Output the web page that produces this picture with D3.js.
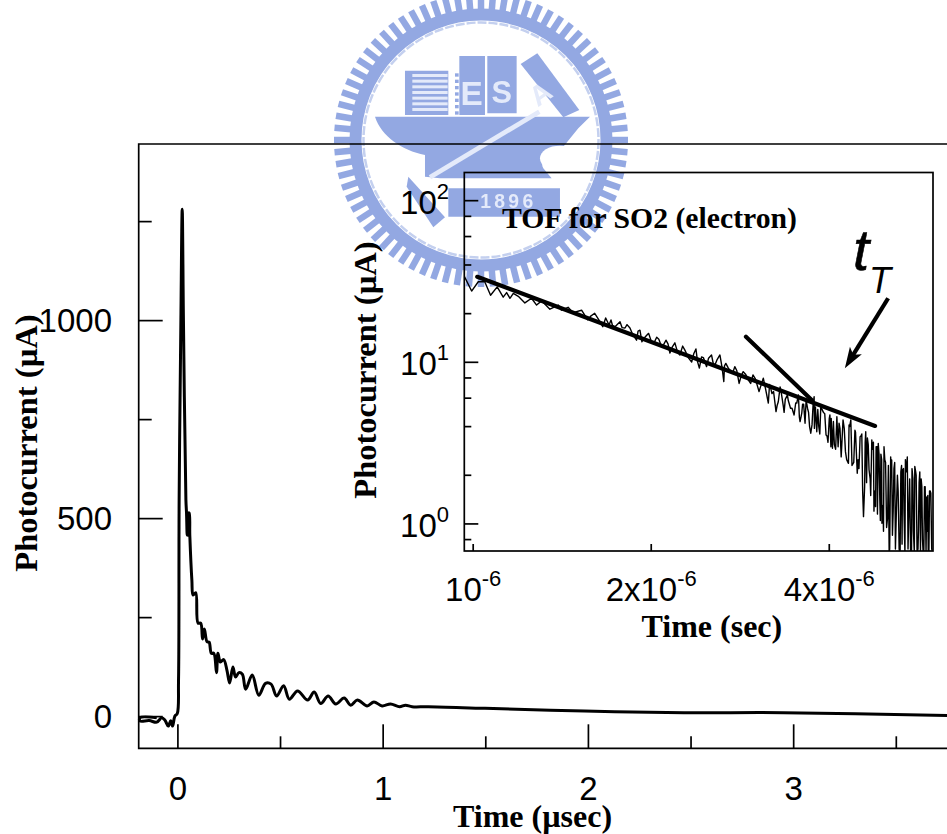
<!DOCTYPE html>
<html>
<head>
<meta charset="utf-8">
<title>TOF for SO2</title>
<script src="https://cdnjs.cloudflare.com/ajax/libs/d3/7.8.5/d3.min.js"></script>
<style>
	html, body { margin: 0; padding: 0; background: #fff; }
	svg { display: block; }
	.tick_label { font-family: "Liberation Sans", Arial, sans-serif; font-size: 33px; fill: #000; }
	.axis_title { font-family: "Liberation Serif", "Times New Roman", serif; font-weight: bold; fill: #000; }
	.frame, .tick { stroke: #000; fill: none; stroke-width: 1.7; }
</style>
</head>
<body>
<svg id="svg_main" width="947" height="834"></svg>
<script>
// main trace, time in usec, photocurrent in uA
var mainTime = [-0.103, -0.185, -0.185, -0.14, -0.103, -0.079, -0.063, -0.047, -0.035, -0.026,
	-0.015, -0.003, 0.003, 0.006, 0.0145, 0.021, 0.027, 0.039, 0.042, 0.045,
	0.047, 0.05, 0.052, 0.055, 0.058, 0.068, 0.074, 0.087, 0.098, 0.111,
	0.12, 0.129, 0.142, 0.152, 0.163, 0.175, 0.188, 0.195, 0.207, 0.223,
	0.239, 0.252, 0.268, 0.281, 0.297, 0.314, 0.33, 0.362, 0.394, 0.427,
	0.454, 0.481, 0.515, 0.543, 0.583, 0.632, 0.664, 0.696, 0.732, 0.769,
	0.81, 0.842, 0.874, 0.922, 0.955, 0.995, 1.036, 1.08, 1.109, 1.141,
	1.22, 1.496, 1.981, 2.466, 2.95, 3.75];
var mainCurrent = [-3, -3, -11, -10, -14, -3, -9, -24, -10.6, -24,
	1, 8, 92, 547, 1000, 1281, 1000, 547, 514, 458,
	514, 458, 514, 514, 458, 345, 307, 313, 236, 236,
	196, 221, 189, 188, 160, 160, 111, 160, 138, 144,
	117, 85, 125, 100, 111, 107, 69, 105, 54, 84,
	82, 52, 78, 44, 65, 42, 62, 33, 52, 32,
	47, 29, 42, 27, 37, 27, 32, 25, 29, 25,
	25, 21, 14, 10, 10, 3];

// inset trace, time in usec, photocurrent in uA
var insetTime = [0.966, 0.994, 1.02, 1.046, 1.07, 1.098, 1.124, 1.139, 1.154, 1.169,
	1.192, 1.223, 1.255, 1.28, 1.305, 1.348, 1.393, 1.41, 1.447, 1.475,
	1.525, 1.562, 1.605, 1.656, 1.675, 1.697, 1.71, 1.737, 1.771, 1.806,
	1.841, 1.889, 1.914, 1.929, 1.965, 2.004, 2.043, 2.084, 2.118, 2.151,
	2.193, 2.236, 2.28, 2.341, 2.38, 2.412, 2.433, 2.481, 2.529, 2.562,
	2.613, 2.653, 2.674, 2.733, 2.769, 2.816, 2.861, 2.918, 2.972, 3.043,
	3.094, 3.155, 3.185, 3.251, 3.303, 3.346, 3.398, 3.488, 3.547, 3.594,
	3.655, 3.722, 3.771, 3.81, 3.87, 3.95, 4.01, 4.05, 4.12, 4.14,
	4.22, 4.31, 4.35, 4.46, 4.51, 4.57, 4.61, 4.67, 4.72, 4.79,
	4.84, 4.91, 4.95, 5.05, 5.1, 5.2, 5.27, 5.32, 5.42, 5.49,
	5.58, 5.63, 5.69, 5.78, 5.845, 5.88, 5.94, 5.98];
var insetCurrent = [34, 27.6, 31.5, 31.5, 26, 29.3, 25.3, 27, 24.9, 26.7,
	25.6, 23.3, 24.9, 22.6, 24, 21.3, 22.6, 21, 21.9, 20.3,
	21, 18.3, 20.1, 16.6, 18.8, 17, 18.3, 16.6, 17.8, 16.3,
	16.3, 13.7, 15.8, 13.4, 14.7, 13.2, 14.3, 12.4, 13.7, 11.4,
	13.2, 11.1, 11.9, 10.05, 12.1, 9.2, 10.8, 9.4, 11.1, 9.6,
	11.1, 7.6, 9.85, 8.75, 9.4, 7.4, 8.75, 7.78, 8.35, 6.6,
	7.97, 5.6, 6.9, 4.95, 7.05, 5.3, 6.28, 4.72, 6.28, 4.85,
	5.85, 3.64, 6.13, 3.72, 5.3, 3.55, 4.72, 2.94, 4.6, 3,
	4.4, 2.37, 4.4, 2.06, 3.46, 1.11, 3.72, 2.16, 3.31, 1.28,
	3.15, 1.01, 3, 0.66, 2.49, 1.41, 0.66, 2.16, 2.6, 0.66,
	2.27, 0.66, 2.1, 0.66, 1.47, 0.66, 1.55, 0.66];

// smaller wiggles in the middle of the decay
var midTime = [1.58, 1.63, 1.72, 1.785, 1.82, 1.86, 1.9, 1.945, 1.98, 2.02,
	2.06, 2.1, 2.135, 2.17, 2.215, 2.26, 2.31, 2.36, 2.395, 2.45,
	2.5, 2.545, 2.585, 2.635, 2.66, 2.7, 2.75, 2.79, 2.84, 2.89,
	2.945, 3.0, 3.07, 3.12, 3.17];
var midCurrent = [19.3, 18.4, 16.9, 16.4, 17.1, 14.9, 15.6, 14.1, 15.1, 13.1,
	13.9, 12.9, 13, 12.4, 11.6, 12.6, 10.7, 11.3, 10.1, 10.7,
	10.6, 9.9, 10.4, 9.3, 9.5, 9.2, 8.7, 8.9, 8.3, 8.4,
	7.4, 7.9, 7.3, 6.9, 7.3];

// extra spikes of the noisy tail, same units
var tailTime = [3.2, 3.28, 3.37, 3.44, 3.51, 3.57, 3.62, 3.69, 3.74, 3.79,
	3.84, 3.91, 3.98, 4.03, 4.08, 4.17, 4.26, 4.33, 4.4, 4.43,
	4.49, 4.54, 4.59, 4.64, 4.69, 4.75, 4.77, 4.82, 4.87, 4.89,
	4.93, 4.98, 5.02, 5.08, 5.13, 5.16, 5.23, 5.3, 5.35, 5.38,
	5.45, 5.52, 5.55, 5.6, 5.66, 5.72, 5.75, 5.81, 5.86, 5.91,
	3.22, 3.265, 3.32, 3.355, 3.41, 3.46, 3.525, 3.56, 3.605, 3.64,
	3.675, 3.705, 3.755, 3.775, 3.825, 3.855, 3.93, 3.965, 4.0, 4.025,
	4.065, 4.1, 4.155, 4.19, 4.24, 4.28, 4.32, 4.37, 4.42, 4.475,
	4.525, 4.555, 4.6, 4.625, 4.655, 4.7, 4.735, 4.76, 4.8, 4.825,
	4.855, 4.88, 4.905, 4.94, 4.965, 5.0, 5.035, 5.06, 5.09, 5.115,
	5.145, 5.175, 5.215, 5.25, 5.285, 5.31, 5.34, 5.37, 5.4, 5.435,
	5.47, 5.51, 5.54, 5.57, 5.61, 5.65, 5.675, 5.705, 5.735, 5.765,
	5.795, 5.83, 5.87, 5.895, 5.925, 5.96];
var tailCurrent = [6.4, 5.7, 5.9, 5.2, 5.6, 4.3, 5.5, 4.9, 4.1, 5.3,
	4.0, 4.9, 3.2, 4.5, 3.1, 3.9, 2.8, 4.0, 2.4, 3.7,
	2.2, 3.6, 1.7, 3.4, 1.9, 3.2, 1.6, 3.0, 1.4, 2.7,
	1.3, 2.4, 1.1, 2.6, 1.2, 2.4, 1.6, 2.3, 1.2, 2.5,
	1.1, 2.2, 0.9, 2.1, 0.9, 1.9, 0.8, 1.7, 0.9, 1.6,
	6.6, 5.4, 6.4, 4.9, 5.8, 5.2, 5.6, 4.6, 5.5, 4.2,
	5.2, 4.0, 5.4, 3.9, 5.1, 3.6, 4.8, 3.5, 4.5, 3.0,
	4.3, 2.9, 4.2, 2.6, 3.9, 2.5, 4.1, 2.3, 3.8, 2.5,
	3.5, 1.6, 3.2, 1.8, 3.1, 1.5, 2.9, 1.2, 3, 1.15,
	2.7, 1.05, 2.5, 0.9, 2.5, 0.95, 2.3, 0.7, 2.1, 0.85,
	2.2, 0.7, 2, 0.7, 2.1, 0.75, 2.2, 0.66, 2.1, 0.7,
	1.9, 0.66, 1.9, 0.66, 2, 0.7, 1.8, 0.66, 1.7, 0.66,
	1.7, 0.66, 1.5, 0.66, 1.6, 0.7];

// straight fits and arrow drawn on the inset, [time, current]
var fitLong = [[1.016, 33.8], [4.78, 4.04]];
var fitShort = [[2.892, 14.4], [3.735, 5.85]];
var arrowLine = [[5.03, 24.9], [4.25, 9.18]];

var mainMajorX = [0, 1, 2, 3];
var mainMinorX = [0.5, 1.5, 2.5, 3.5];
var mainMajorY = [0, 500, 1000];
var mainMinorY = [250, 750, 1250];
var insetTicksX = [1, 2, 4];
var insetMajorY = [1, 10, 100];
var insetMinorY = [0.8, 2, 4, 6, 8, 20, 40, 60, 80];
var insetLabelsX = [["10", "-6"], ["2x10", "-6"], ["4x10", "-6"]];
var insetLabelsY = [["10", "0"], ["10", "1"], ["10", "2"]];

var svg = d3.select("#svg_main");
var margin = { left: 138.7, top: 144, right: 947, bottom: 748.3 };
var inset = { left: 464.3, top: 172.5, right: 933, bottom: 551 };

drawLogo();

var mainX = d3.scaleLinear().domain([-0.191, 3.747]).range([margin.left, margin.right]);
var mainY = d3.scaleLinear().domain([-80, 1446]).range([margin.bottom, margin.top]);
var insetX = d3.scaleLog().base(2).domain([0.966, 5.99]).range([inset.left, inset.right]);
var insetY = d3.scaleLog().domain([0.68, 149.4]).range([inset.bottom, inset.top]);

svg.append("defs").append("clipPath").attr("id", "clip_inset")
	.append("rect")
	.attr("x", inset.left).attr("y", inset.top)
	.attr("width", inset.right - inset.left).attr("height", inset.bottom - inset.top);

// main frame, open on the right where the page cuts it
svg.append("path").attr("class", "frame")
	.attr("d", "M" + margin.right + "," + margin.top + "H" + margin.left + "V" + margin.bottom + "H" + margin.right);

function ticksX(values, len) {
	svg.append("g").selectAll("line").data(values).enter().append("line")
		.attr("class", "tick")
		.attr("x1", mainX).attr("x2", mainX)
		.attr("y1", margin.bottom).attr("y2", margin.bottom - len);
}
function ticksY(values, len) {
	svg.append("g").selectAll("line").data(values).enter().append("line")
		.attr("class", "tick")
		.attr("y1", mainY).attr("y2", mainY)
		.attr("x1", margin.left).attr("x2", margin.left + len);
}
ticksX(mainMajorX, 24);
ticksX(mainMinorX, 12);
ticksY(mainMajorY, 24);
ticksY(mainMinorY, 13);

svg.append("g").selectAll("text").data(mainMajorX).enter().append("text")
	.attr("class", "tick_label")
	.attr("text-anchor", "middle")
	.attr("x", mainX)
	.attr("y", 800)
	.text(function(d) { return d; });
svg.append("g").selectAll("text").data(mainMajorY).enter().append("text")
	.attr("class", "tick_label")
	.attr("text-anchor", "end")
	.attr("x", 112)
	.attr("y", function(d) { return mainY(d) + 11.5; })
	.text(function(d) { return d; });

var mainLine = d3.line()
	.curve(d3.curveCatmullRom.alpha(0.5))
	.x(function(d) { return mainX(d[0]); })
	.y(function(d) { return mainY(d[1]); });
svg.append("path")
	.attr("d", mainLine(d3.zip(mainTime, mainCurrent)))
	.attr("fill", "none").attr("stroke", "#000")
	.attr("stroke-width", 3).attr("stroke-linejoin", "round");

// inset frame and ticks
svg.append("rect").attr("class", "frame")
	.attr("x", inset.left).attr("y", inset.top)
	.attr("width", inset.right - inset.left).attr("height", inset.bottom - inset.top);

svg.append("g").selectAll("line").data(insetTicksX).enter().append("line")
	.attr("class", "tick")
	.attr("x1", insetX).attr("x2", insetX)
	.attr("y1", inset.bottom).attr("y2", inset.bottom - 7);
svg.append("g").selectAll("line").data(insetMajorY).enter().append("line")
	.attr("class", "tick")
	.attr("y1", insetY).attr("y2", insetY)
	.attr("x1", inset.left).attr("x2", inset.left + 14);
svg.append("g").selectAll("line").data(insetMinorY).enter().append("line")
	.attr("class", "tick")
	.attr("y1", insetY).attr("y2", insetY)
	.attr("x1", inset.left).attr("x2", inset.left + 7);

function powerLabel(sel, d) {
	sel.append("tspan").text(d[0]);
	sel.append("tspan").attr("dy", -15).attr("font-size", 22).text(d[1]);
}
insetLabelsX.forEach(function(d, i) {
	var t = svg.append("text").attr("class", "tick_label").attr("text-anchor", "middle")
		.attr("x", insetX(insetTicksX[i])).attr("y", 601);
	powerLabel(t, d);
});
insetLabelsY.forEach(function(d, i) {
	var t = svg.append("text").attr("class", "tick_label").attr("text-anchor", "end")
		.attr("x", 449).attr("y", insetY(insetMajorY[i]) + 13);
	powerLabel(t, d);
});

var insetLine = d3.line().x(function(d) { return insetX(d[0]); }).y(function(d) { return insetY(d[1]); });
var noisy = d3.zip(insetTime, insetCurrent)
	.concat(d3.zip(midTime, midCurrent))
	.concat(d3.zip(tailTime, tailCurrent))
	.sort(function(a, b) { return a[0] - b[0]; });
svg.append("path")
	.attr("clip-path", "url(#clip_inset)")
	.attr("d", insetLine(noisy))
	.attr("fill", "none").attr("stroke", "#000")
	.attr("stroke-width", 1.4).attr("stroke-linejoin", "round");

[fitLong, fitShort].forEach(function(d) {
	svg.append("path")
		.attr("d", insetLine(d))
		.attr("fill", "none").attr("stroke", "#000")
		.attr("stroke-width", 4.2).attr("stroke-linecap", "round");
});

// arrow to the transit time
var a0 = [insetX(arrowLine[0][0]), insetY(arrowLine[0][1])];
var a1 = [insetX(arrowLine[1][0]), insetY(arrowLine[1][1])];
var ang = Math.atan2(a1[1] - a0[1], a1[0] - a0[0]);
function offset(p, along, across) {
	return [p[0] + along * Math.cos(ang) - across * Math.sin(ang),
		p[1] + along * Math.sin(ang) + across * Math.cos(ang)];
}
svg.append("line")
	.attr("x1", a0[0]).attr("y1", a0[1])
	.attr("x2", offset(a1, -14, 0)[0]).attr("y2", offset(a1, -14, 0)[1])
	.attr("stroke", "#000").attr("stroke-width", 4.2);
svg.append("path")
	.attr("d", d3.line()([a1, offset(a1, -21, 7), offset(a1, -16, 0), offset(a1, -21, -7)]) + "Z")
	.attr("fill", "#000");

// text
svg.append("text").attr("class", "axis_title")
	.attr("transform", "translate(36.5,443) rotate(-90)")
	.attr("text-anchor", "middle").attr("font-size", 32.5)
	.text("Photocurrent (\u00b5A)");
svg.append("text").attr("class", "axis_title")
	.attr("x", 453).attr("y", 826.5).attr("font-size", 32)
	.text("Time (\u00b5sec)");
svg.append("text").attr("class", "axis_title")
	.attr("transform", "translate(376,370) rotate(-90)")
	.attr("text-anchor", "middle").attr("font-size", 32.5)
	.text("Photocurrent (\u00b5A)");
svg.append("text").attr("class", "axis_title")
	.attr("x", 641.5).attr("y", 636.5).attr("font-size", 32)
	.text("Time (sec)");
svg.append("text").attr("class", "axis_title")
	.attr("x", 502).attr("y", 228).attr("font-size", 29.7)
	.text("TOF for SO2 (electron)");
svg.append("text")
	.attr("x", 853).attr("y", 270)
	.attr("font-family", "Liberation Sans").attr("font-style", "italic")
	.attr("stroke", "#000").attr("stroke-width", 0.6)
	.attr("font-size", 58).text("t");
svg.append("text")
	.attr("x", 869).attr("y", 293)
	.attr("font-family", "Liberation Sans").attr("font-style", "italic")
	.attr("font-size", 36).text("T");

// watermark behind the chart, outlined at 3x from the crop origin
function drawLogo() {
	var blue = "#93a8e2", pale = "#e4eafa";
	var defs = svg.append("defs");
	defs.append("filter").attr("id", "soft")
		.append("feGaussianBlur").attr("stdDeviation", 0.6);
	var logo = svg.append("g").attr("filter", "url(#soft)");

	var cx = 481, cy = 140;
	var teeth = d3.range(76).map(function(i) { return i * 2 * Math.PI / 76; });
	logo.selectAll("line.tooth").data(teeth).enter().append("line")
		.attr("class", "tooth")
		.attr("x1", function(a) { return cx + 125 * Math.cos(a); })
		.attr("y1", function(a) { return cy + 125 * Math.sin(a); })
		.attr("x2", function(a) { return cx + 147 * Math.cos(a); })
		.attr("y2", function(a) { return cy + 147 * Math.sin(a); })
		.attr("stroke", blue).attr("stroke-width", 6.5);
	logo.append("circle").attr("cx", cx).attr("cy", cy).attr("r", 125.5)
		.attr("fill", "none").attr("stroke", blue).attr("stroke-width", 12);
	logo.append("circle").attr("cx", cx).attr("cy", cy).attr("r", 117.5)
		.attr("fill", "none").attr("stroke", "#c4d0ef").attr("stroke-width", 2.5)
		.attr("stroke-dasharray", "9 2");

	var g = logo.append("g").attr("transform", "translate(330,0) scale(0.3333)");
	function poly(d, fill) { g.append("path").attr("d", d).attr("fill", fill || blue); }
	function word(s, x, y, size, rot) {
		return g.append("text").attr("transform", "translate(" + x + "," + y + ") rotate(" + (rot || 0) + ")")
			.attr("text-anchor", "middle").attr("font-family", "Liberation Sans").attr("font-weight", "bold")
			.attr("font-size", size).attr("fill", pale).text(s);
	}
	// left book with stripes
	poly("M225,212H355V345H225Z");
	d3.range(7).forEach(function(i) {
		g.append("rect").attr("x", 247).attr("y", 222 + i * 17).attr("width", 106).attr("height", 9).attr("fill", pale);
	});
	d3.range(7).forEach(function(i) {
		g.append("rect").attr("x", 375).attr("y", 220 + i * 19).attr("width", 11).attr("height", 10).attr("fill", blue);
	});
	poly("M388,168H465V345H388Z");
	poly("M472,168H560V340H472Z");
	word("E", 425, 314, 100);
	word("S", 515, 308, 92);
	poly("M572,192L622,160L748,330L700,352Z");
	word("A", 648, 305, 84, -35);
	// hull
	poly("M135,350H780L745,385L700,440C660,455 625,480 640,505L665,535H330L285,530V465C215,450 155,410 135,350Z");
	g.append("ellipse").attr("cx", 690).attr("cy", 475).attr("rx", 60).attr("ry", 38).attr("fill", "#fff");
	g.append("path").attr("d", "M300,532L628,335").attr("stroke", pale).attr("stroke-width", 14).attr("fill", "none");
	// tail of the pen and year plate
	poly("M235,530L345,652L310,682L230,560Z");
	poly("M355,565H690V650H355Z");
	word("1896", 535, 625, 58).attr("letter-spacing", 10);
	logo.lower();
}
</script>
</body>
</html>
